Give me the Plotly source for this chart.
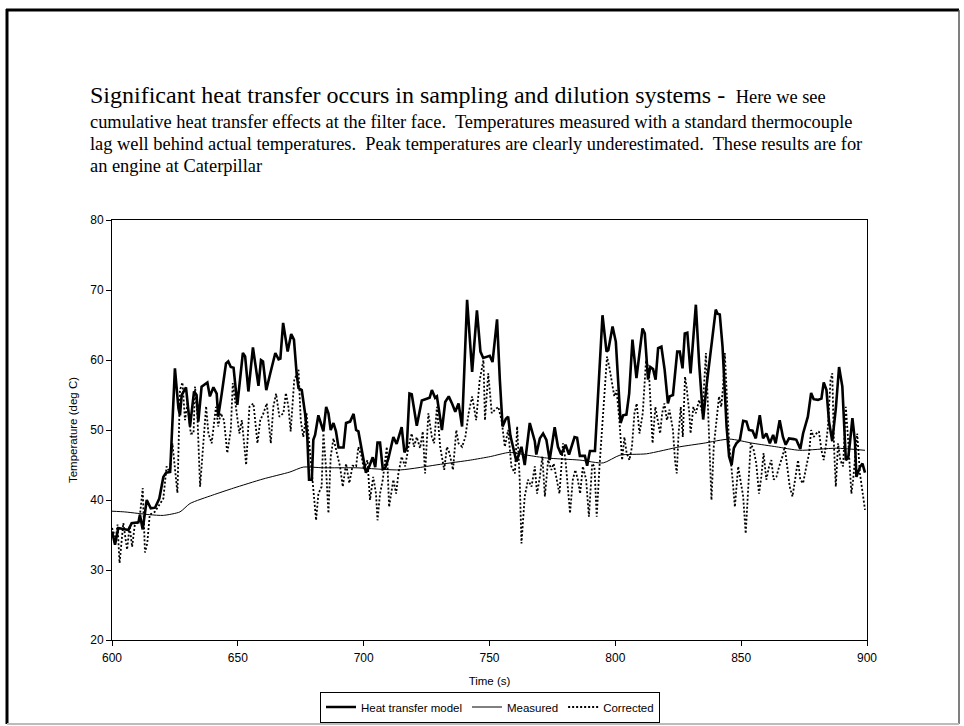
import plotly.graph_objects as go

# Heat transfer model (thick line)
model_t = [600.0, 601.2, 602.5, 606.5, 607.8, 610.5, 611.1, 612.2, 613.8, 615.4, 617.1, 618.8, 620.4, 621.5, 623.1,
           625.0, 626.4, 627.0, 627.7, 629.4, 631.0, 632.6, 633.6, 634.3, 635.6, 637.9, 638.9, 640.3, 641.6, 642.2,
           643.6, 645.3, 646.2, 647.2, 648.3, 649.8, 652.0, 652.9, 654.2, 656.0, 658.2, 659.2, 660.0, 661.3, 662.9,
           664.9, 666.2, 666.9, 668.0, 669.8, 671.2, 672.3, 673.4, 674.1, 675.4, 676.7, 677.6, 678.3, 679.4, 680.0,
           680.7, 682.0, 684.0, 685.1, 686.0, 686.9, 688.0, 689.0, 690.0, 692.0, 693.0, 694.6, 696.0, 697.0, 697.9,
           699.2, 700.9, 701.9, 703.6, 704.6, 705.5, 706.5, 707.6, 708.5, 709.8, 711.8, 713.1, 715.1, 716.2, 717.1,
           718.2, 719.1, 721.1, 723.1, 725.1, 726.2, 727.1, 728.4, 729.1, 731.1, 732.4, 733.8, 735.1, 736.4, 737.7,
           739.1, 741.1, 743.1, 745.0, 746.4, 747.5, 750.1, 751.2, 753.0, 754.1, 755.2, 756.5, 757.4, 758.3, 759.4,
           760.7, 762.7, 764.0, 766.0, 768.0, 768.6, 770.0, 771.3, 772.6, 773.9, 775.9, 777.2, 778.5, 780.2, 781.6,
           783.8, 784.8, 785.9, 787.9, 788.8, 789.9, 791.9, 793.2, 794.9, 796.5, 797.2, 798.9, 800.2, 802.1, 803.1,
           804.4, 805.5, 806.8, 808.4, 809.5, 810.8, 811.7, 813.0, 813.9, 815.0, 816.0, 817.0, 818.3, 819.6, 820.9,
           821.6, 822.9, 824.6, 825.6, 826.7, 827.6, 828.6, 829.9, 832.0, 833.3, 834.9, 836.2, 838.2, 839.9, 840.6,
           841.5, 842.6, 844.2, 845.2, 846.2, 847.1, 848.1, 849.5, 850.8, 852.1, 853.1, 854.5, 855.8, 857.4, 858.7,
           860.0, 861.4, 862.7, 863.7, 865.3, 866.6, 867.7, 869.0, 870.9, 871.9, 873.5, 874.6, 876.5, 877.8, 878.8,
           880.5, 881.9, 882.8, 883.9, 884.9, 886.2, 887.6, 888.9, 890.2, 891.6, 892.5, 893.2, 894.2, 895.2, 895.8,
           897.2, 898.2, 899.2]
model_temp = [35.5, 33.6, 36.0, 35.7, 36.7, 36.8, 37.9, 35.8, 40.0, 38.8, 38.9, 40.2, 43.3, 43.9, 44.0,
              58.8, 53.1, 52.1, 55.0, 56.1, 50.5, 55.5, 55.0, 51.2, 56.2, 56.8, 54.8, 56.1, 55.2, 51.9,
              55.2, 59.5, 59.8, 59.0, 58.9, 53.6, 61.0, 60.5, 55.5, 61.8, 56.3, 60.0, 59.8, 55.7, 58.1,
              61.0, 60.1, 60.2, 65.3, 61.2, 63.7, 62.9, 57.9, 56.0, 55.7, 52.4, 49.0, 42.9, 42.9, 48.6,
              49.3, 52.1, 49.8, 53.3, 52.4, 50.0, 51.0, 49.8, 47.5, 47.5, 51.0, 51.2, 52.3, 50.0, 49.8,
              47.1, 43.9, 44.5, 46.1, 44.7, 48.2, 48.2, 44.4, 44.5, 45.9, 49.0, 48.0, 50.4, 46.8, 47.4,
              55.2, 55.1, 50.6, 54.2, 54.5, 54.6, 55.7, 54.6, 54.8, 50.0, 54.0, 54.8, 53.8, 52.6, 53.8,
              50.5, 68.6, 58.3, 67.1, 61.2, 60.3, 60.6, 59.7, 65.8, 57.2, 50.5, 51.6, 51.9, 49.2, 47.4,
              45.5, 47.6, 45.0, 51.0, 48.4, 46.5, 48.8, 49.5, 48.6, 45.7, 50.4, 47.6, 46.5, 47.9, 46.5,
              49.0, 48.9, 46.3, 46.3, 44.9, 47.0, 47.0, 56.2, 66.4, 61.2, 61.4, 64.8, 62.6, 51.0, 52.1,
              52.2, 55.2, 62.9, 57.4, 60.7, 64.5, 63.8, 57.2, 59.0, 58.7, 57.2, 61.7, 61.9, 58.6, 53.8,
              54.8, 55.0, 61.2, 61.2, 58.8, 63.8, 63.9, 58.1, 67.9, 59.5, 51.5, 56.2, 62.4, 67.2, 66.6,
              66.5, 61.9, 50.5, 46.2, 45.0, 47.4, 48.1, 48.6, 51.3, 51.2, 50.0, 49.9, 48.8, 52.1, 48.8,
              49.5, 48.1, 49.3, 48.1, 51.4, 49.0, 47.9, 48.8, 48.7, 48.6, 47.3, 49.5, 51.9, 55.3, 54.4,
              54.3, 54.5, 56.8, 55.7, 51.2, 48.4, 53.0, 59.0, 56.2, 45.7, 46.0, 48.1, 51.7, 48.4, 43.3,
              44.7, 45.2, 43.9]

# Measured (thermocouple) temperature
measured_t = [600, 605, 610, 615, 620.4, 627, 631, 640, 648.3, 660, 670.7, 676, 684, 697, 714.6, 730.5, 742.4,
              750.3, 758, 765, 772.6, 785.9, 795.2, 801.8, 812.4, 825.6, 834.9, 845.4, 854.7, 864, 873.2,
              887.8, 899.2]
measured_temp = [38.4, 38.3, 38.1, 37.9, 37.8, 38.3, 39.5, 40.7, 41.7, 43.0, 44.0, 44.7, 44.6, 44.6, 44.3, 45.1,
                 45.7, 46.2, 46.8, 46.4, 46.0, 45.7, 45.3, 46.4, 46.6, 47.6, 48.1, 48.7, 48.1, 47.6, 47.1,
                 47.4, 47.1]

# Corrected temperature
corrected_t = [600.0, 601.5, 602.2, 603.0, 604.5, 606.0, 607.0, 608.0, 609.0, 610.9, 612.2, 613.1, 614.0, 615.0,
               617.0, 620.4, 621.7, 623.0, 624.0, 625.0, 626.0, 627.0, 628.0, 629.0, 630.0, 631.3, 632.4, 633.0,
               633.9, 635.0, 636.4, 637.4, 638.3, 639.6, 641.3, 642.2, 643.2, 644.5, 645.8, 647.2, 648.0, 649.3,
               650.6, 651.6, 653.3, 654.6, 656.2, 657.8, 658.9, 660.2, 661.5, 663.1, 664.1, 665.2, 666.5, 668.1,
               669.1, 670.1, 671.0, 672.4, 674.1, 675.0, 676.0, 677.3, 678.7, 680.0, 681.1, 682.0, 683.3, 684.0,
               685.0, 686.0, 686.9, 688.0, 689.3, 690.6, 691.7, 693.0, 694.3, 695.6, 697.0, 697.9, 699.2, 700.1,
               701.5, 702.5, 703.8, 704.9, 705.5, 706.5, 707.6, 709.2, 710.1, 711.8, 712.9, 713.8, 715.1, 716.5,
               717.8, 719.1, 720.0, 721.1, 722.4, 723.5, 724.4, 725.7, 727.1, 728.0, 729.1, 730.4, 732.0, 733.1,
               734.1, 735.5, 736.8, 737.7, 739.1, 740.4, 741.7, 743.1, 744.7, 746.1, 747.6, 748.2, 749.5, 750.9,
               752.2, 753.5, 754.8, 756.1, 757.4, 758.7, 760.1, 761.0, 762.0, 762.7, 764.0, 765.3, 766.7, 768.0,
               768.9, 770.0, 771.0, 772.0, 773.3, 774.6, 775.5, 776.8, 777.8, 779.2, 780.2, 781.1, 782.0, 783.1,
               784.1, 785.1, 786.0, 787.1, 788.4, 789.5, 790.8, 791.7, 792.6, 793.7, 795.0, 796.1, 796.7, 797.6,
               798.7, 799.6, 800.5, 801.6, 802.7, 803.6, 804.5, 805.6, 806.6, 807.6, 808.5, 809.6, 810.9, 812.2,
               813.3, 814.2, 814.8, 815.9, 816.8, 817.8, 818.6, 819.5, 820.5, 821.5, 822.9, 823.7, 824.4, 825.1,
               826.0, 826.8, 827.7, 828.3, 829.4, 829.9, 831.0, 832.0, 833.3, 834.6, 836.0, 836.9, 837.6, 838.2,
               839.1, 840.2, 841.2, 842.1, 842.8, 843.5, 844.4, 845.2, 846.6, 847.5, 848.8, 849.7, 850.8, 851.8,
               852.8, 853.8, 855.0, 856.0, 857.1, 858.0, 858.9, 860.0, 861.1, 862.0, 862.9, 864.0, 865.1, 866.4,
               867.3, 868.3, 869.3, 870.4, 871.3, 872.6, 873.5, 874.6, 875.9, 877.0, 877.8, 878.8, 879.9, 880.9,
               881.9, 882.8, 883.6, 884.5, 885.5, 886.2, 886.9, 887.6, 888.5, 889.4, 890.5, 891.6, 892.5, 893.2,
               893.8, 894.5, 895.2, 896.1, 897.2, 898.2, 899.2]
corrected_temp = [36.0, 34.5, 36.5, 31.0, 36.7, 32.9, 36.3, 33.3, 36.3, 37.1, 41.7, 32.5, 33.8, 37.9,
                  38.3, 40.2, 44.8, 43.9, 48.1, 44.8, 41.0, 55.7, 56.8, 51.4, 53.8, 49.5, 49.5, 56.2,
                  52.4, 41.9, 48.1, 53.4, 49.5, 48.1, 53.3, 50.5, 52.4, 51.4, 46.7, 50.0, 56.7, 53.3,
                  49.5, 51.4, 45.0, 53.3, 53.8, 48.1, 51.4, 52.4, 53.8, 48.1, 53.3, 55.2, 51.9, 52.4,
                  55.3, 53.3, 49.8, 57.1, 58.6, 51.4, 49.0, 52.4, 46.7, 41.9, 37.1, 40.9, 41.9, 49.5,
                  44.8, 38.1, 46.2, 48.8, 46.7, 44.8, 41.9, 45.2, 42.4, 44.9, 44.8, 47.6, 46.2, 44.3,
                  45.7, 40.0, 43.3, 40.9, 37.1, 40.9, 42.9, 47.6, 39.0, 42.9, 40.9, 43.8, 46.2, 44.8,
                  47.6, 49.5, 47.6, 49.0, 47.4, 49.8, 43.8, 52.4, 49.0, 48.1, 53.3, 47.6, 44.3, 47.6,
                  46.7, 44.3, 50.0, 48.1, 47.6, 49.0, 52.4, 54.8, 51.4, 57.1, 60.0, 51.4, 58.1, 52.4,
                  52.9, 53.3, 51.4, 47.6, 50.0, 44.8, 43.8, 50.5, 42.9, 33.8, 40.5, 42.9, 41.9, 44.8,
                  40.9, 43.3, 46.2, 40.5, 45.7, 44.3, 45.2, 42.9, 40.9, 48.1, 45.7, 41.9, 38.1, 42.9,
                  44.3, 42.9, 40.9, 44.8, 42.9, 37.6, 45.2, 44.8, 37.6, 44.8, 51.4, 57.1, 60.5, 59.0,
                  56.7, 54.8, 55.7, 51.4, 45.7, 49.0, 46.7, 45.7, 47.6, 52.4, 53.8, 49.5, 52.4, 60.0,
                  58.6, 53.3, 48.1, 53.3, 51.4, 49.5, 52.4, 53.8, 51.4, 52.9, 50.0, 45.7, 43.8, 49.3,
                  53.3, 49.0, 57.6, 56.2, 52.4, 49.5, 53.3, 52.4, 54.3, 52.4, 61.0, 52.4, 46.7, 40.0,
                  47.6, 51.4, 54.8, 53.3, 56.2, 61.0, 54.3, 48.1, 42.9, 39.0, 44.8, 42.9, 40.5, 35.2,
                  40.9, 48.1, 47.1, 45.2, 40.9, 43.3, 46.7, 42.9, 44.8, 45.7, 42.9, 43.3, 44.8, 46.2,
                  47.6, 44.8, 41.9, 40.5, 42.9, 45.7, 42.9, 42.4, 44.8, 46.7, 50.0, 49.0, 49.5, 49.8,
                  47.1, 45.7, 47.6, 50.5, 57.1, 58.1, 47.6, 41.9, 48.1, 45.7, 44.8, 53.3, 48.6, 44.8,
                  40.9, 42.9, 45.7, 49.5, 43.8, 40.9, 38.6]

x_ticks = [600, 650, 700, 750, 800, 850, 900]
y_ticks = [20, 30, 40, 50, 60, 70, 80]

title_lines = [
    ("Significant heat transfer occurs in sampling and dilution systems - ", " Here we see"),
    "cumulative heat transfer effects at the filter face.  Temperatures measured with a standard thermocouple",
    "lag well behind actual temperatures.  Peak temperatures are clearly underestimated.  These results are for",
    "an engine at Caterpillar",
]

W, H = 964, 726
L, R, T, B = 112, 867, 220, 640


def px(x):
    return (x - L) / (R - L)


def py(y):
    return (B - y) / (B - T)


fig = go.Figure()
fig.add_trace(go.Scatter(x=model_t, y=model_temp, mode="lines", name="Heat transfer model",
                         line=dict(color="black", width=2.6)))
fig.add_trace(go.Scatter(x=measured_t, y=measured_temp, mode="lines", name="Measured",
                         line=dict(color="black", width=1, shape="spline", smoothing=0.6)))
fig.add_trace(go.Scatter(x=corrected_t, y=corrected_temp, mode="lines", name="Corrected",
                         line=dict(color="black", width=1.8, dash="2px,2px")))

serif = "Liberation Serif, Times New Roman, serif"
sans = "Liberation Sans, Arial, sans-serif"

annotations = []
big, small = title_lines[0]
annotations.append(dict(
    text=f'<span style="font-size:24px">{big}</span>{small}',
    x=px(88), y=py(95), xref="paper", yref="paper", xanchor="left", yanchor="middle",
    showarrow=False, font=dict(family=serif, size=18.4, color="black")))
for i, line in enumerate(title_lines[1:]):
    annotations.append(dict(
        text=line, x=px(88), y=py(122 + 22 * i), xref="paper", yref="paper",
        xanchor="left", yanchor="middle", showarrow=False,
        font=dict(family=serif, size=18.4, color="black")))

# slide frame
shapes = [
    dict(type="line", xref="paper", yref="paper", x0=px(7), x1=px(7), y0=py(9), y1=py(724),
         line=dict(color="black", width=3)),
    dict(type="line", xref="paper", yref="paper", x0=px(6), x1=px(959), y0=py(10), y1=py(10),
         line=dict(color="black", width=3)),
    dict(type="line", xref="paper", yref="paper", x0=px(959), x1=px(959), y0=py(10), y1=py(724),
         line=dict(color="#555555", width=1.5)),
    dict(type="line", xref="paper", yref="paper", x0=px(7), x1=px(959), y0=py(724), y1=py(724),
         line=dict(color="#bbbbbb", width=2)),
]

fig.update_layout(
    width=W, height=H,
    margin=dict(l=L, r=W - R, t=T, b=H - B, autoexpand=False),
    paper_bgcolor="white", plot_bgcolor="white",
    font=dict(family=sans, size=12, color="black"),
    showlegend=True,
    legend=dict(orientation="h", x=px(490), y=py(707), xanchor="center", yanchor="middle",
                xref="paper", yref="paper",
                bordercolor="black", borderwidth=1, bgcolor="white",
                font=dict(family=sans, size=11.5, color="black"),
                itemwidth=30, tracegroupgap=0),
    annotations=annotations,
    shapes=shapes,
    xaxis=dict(range=[600, 900], tickvals=x_ticks, ticks="outside", ticklen=5, tickcolor="black",
               showline=True, linecolor="black", linewidth=1, mirror=True, showgrid=False,
               zeroline=False, ticklabelstandoff=2, automargin=False,
               title=dict(text="Time (s)", standoff=12, font=dict(size=11.5)),
               tickfont=dict(size=12)),
    yaxis=dict(range=[20, 80], tickvals=y_ticks, ticks="outside", ticklen=5, tickcolor="black",
               showline=True, linecolor="black", linewidth=1, mirror=True, showgrid=False,
               zeroline=False, automargin=False,
               title=dict(text="Temperature (deg C)", standoff=10, font=dict(size=11.5)),
               tickfont=dict(size=12)),
)

fig.write_html("out.html")
